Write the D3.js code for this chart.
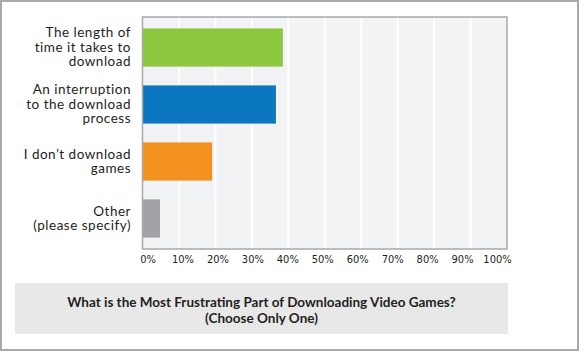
<!DOCTYPE html>
<html>
<head>
<meta charset="utf-8">
<script src="https://cdn.jsdelivr.net/npm/d3@7"></script>
<style>
  body { margin: 0; background: #fff; }
</style>
</head>
<body>
<div class="chart"></div>
<script>
// answers (top to bottom), share in percent
const categories = [
  ["The length of", "time it takes to", "download"],
  ["An interruption", "to the download", "process"],
  ["I don\u2019t download", "games"],
  ["Other", "(please specify)"]
];
const values = [38.5, 36.6, 19.1, 4.8];
const colors = ["#8dc63f", "#0b77c1", "#f39220", "#a2a3a7"];
const ticks = [0, 10, 20, 30, 40, 50, 60, 70, 80, 90, 100];
const titleLines = ["What is the Most Frustrating Part of Downloading Video Games?", "(Choose Only One)"];

const W = 580, H = 352;
const plot = {left: 142.5, right: 507, top: 17, bottom: 249};

const svg = d3.select(".chart").append("svg")
  .attr("width", W).attr("height", H);

// outer frame
svg.append("rect")
  .attr("x", 1).attr("y", 1).attr("width", W - 3).attr("height", H - 3)
  .attr("fill", "#fff").attr("stroke", "#a7a9ac").attr("stroke-width", 2);

const x = d3.scaleLinear().domain([0, 100]).range([plot.left, plot.right]);
const y = d3.scaleBand()
  .domain(d3.range(categories.length))
  .range([plot.top, plot.bottom])
  .paddingInner(0.33).paddingOuter(0.2);

svg.append("rect")
  .attr("x", plot.left).attr("y", plot.top)
  .attr("width", plot.right - plot.left).attr("height", plot.bottom - plot.top)
  .attr("fill", "#f2f3f5");

// gridlines
svg.selectAll(".grid")
  .data(ticks.slice(1, -1))
  .enter().append("line")
  .attr("x1", d => x(d)).attr("x2", d => x(d))
  .attr("y1", plot.top).attr("y2", plot.bottom)
  .attr("stroke", "#fff").attr("stroke-width", 2);

// bars
svg.selectAll(".bar")
  .data(values)
  .enter().append("rect")
  .attr("x", x(0))
  .attr("y", (d, i) => y(i))
  .attr("width", d => x(d) - x(0))
  .attr("height", y.bandwidth())
  .attr("fill", (d, i) => colors[i]);

// plot border
svg.append("rect")
  .attr("x", plot.left).attr("y", plot.top)
  .attr("width", plot.right - plot.left).attr("height", plot.bottom - plot.top)
  .attr("fill", "none").attr("stroke", "#a7a9ac").attr("stroke-width", 1.5);

// category labels
const lab = svg.selectAll(".cat")
  .data(categories)
  .enter().append("text")
  .attr("text-anchor", "end")
  .attr("font-family", "Lato, sans-serif")
  .attr("font-size", 13.5)
  .attr("letter-spacing", 0.5)
  .attr("fill", "#231f20");
lab.selectAll("tspan")
  .data((d, i) => d.map(t => ({t, i, n: d.length})))
  .enter().append("tspan")
  .attr("x", 131)
  .attr("y", (d, k) => y(d.i) + y.bandwidth() / 2 + (k - (d.n - 1) / 2) * 14.5 + 4.5)
  .text(d => d.t);

// tick labels (spread slightly inside the plot, as in the original)
const xl = d3.scaleLinear().domain([0, 100]).range([147.5, 497]);
const axis = d3.axisBottom(xl).tickValues(ticks).tickSize(0).tickFormat(d => d + "%");
const ag = svg.append("g")
  .attr("transform", `translate(0,${plot.bottom + 3})`)
  .call(axis);
ag.select(".domain").remove();
ag.selectAll("text")
  .attr("font-family", "'DejaVu Sans Condensed', sans-serif")
  .attr("font-size", 11)
  .attr("fill", "#231f20");

// title box
svg.append("rect")
  .attr("x", 15).attr("y", 283).attr("width", 493).attr("height", 51)
  .attr("fill", "#e8e8e8");
svg.selectAll(".title")
  .data(titleLines)
  .enter().append("text")
  .attr("x", 261.5)
  .attr("y", (d, i) => 306.5 + i * 16)
  .attr("text-anchor", "middle")
  .attr("font-family", "Lato, sans-serif")
  .attr("font-weight", "bold")
  .attr("font-size", 13.5)
  .attr("fill", "#231f20")
  .text(d => d);
</script>
</body>
</html>
